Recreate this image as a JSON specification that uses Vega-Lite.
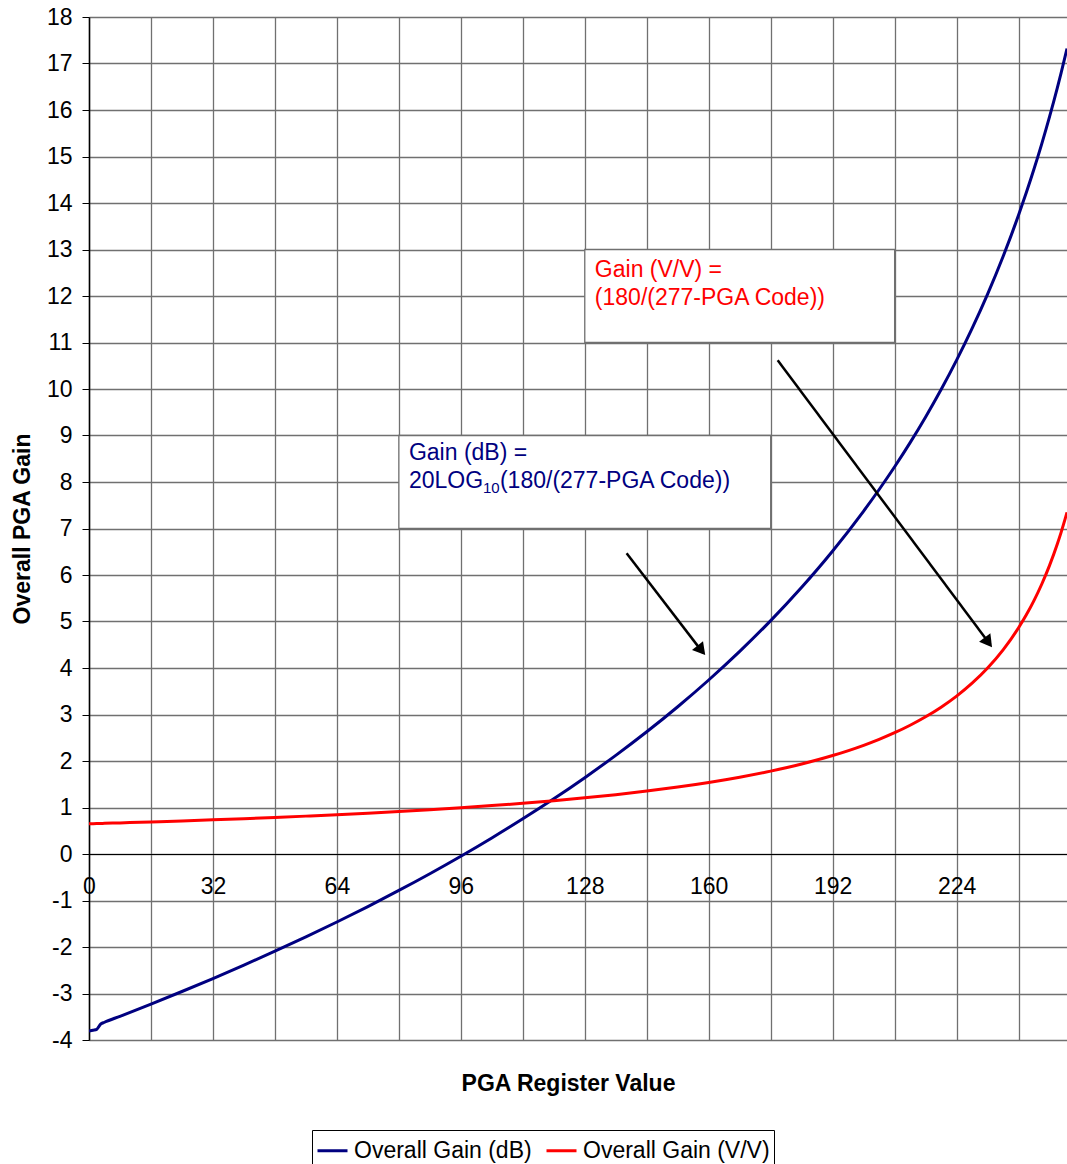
{
  "$schema": "https://vega.github.io/schema/vega-lite/v6.json",
  "width": 978,
  "height": 1023,
  "autosize": "none",
  "padding": {"left": 89, "top": 17, "right": 0, "bottom": 124},
  "background": "white",
  "config": {
    "view": {"stroke": null},
    "font": "Liberation Sans",
    "axis": {"labelFont": "Liberation Sans", "titleFont": "Liberation Sans", "labelColor": "black", "titleColor": "black"}
  },
  "encoding": {
    "x": {
      "field": "x", "type": "quantitative",
      "scale": {"domain": [0, 252.5], "nice": false, "zero": false},
      "axis": {
        "title": "PGA Register Value",
        "values": [0, 16, 32, 48, 64, 80, 96, 112, 128, 144, 160, 176, 192, 208, 224, 240],
        "labelExpr": "datum.value % 32 == 0 ? toString(datum.value) : ''",
        "offset": -186,
        "grid": true, "gridColor": "#707070", "gridWidth": 1.3, "gridOpacity": 1,
        "tickSize": 0, "domain": true, "domainColor": "black", "domainWidth": 1,
        "labelFontSize": 23, "labelPadding": 21, "labelFlush": false, "labelOverlap": false,
        "titleFontSize": 23, "titleFontWeight": "bold", "titleX": 479, "titleY": 229, "titleBaseline": "middle", "titleAlign": "center"
      }
    },
    "y": {
      "field": "y", "type": "quantitative",
      "scale": {"domain": [-4, 18], "nice": false, "zero": false},
      "axis": {
        "title": "Overall PGA Gain",
        "values": [-4, -3, -2, -1, 0, 1, 2, 3, 4, 5, 6, 7, 8, 9, 10, 11, 12, 13, 14, 15, 16, 17, 18],
        "labelExpr": "toString(datum.value)",
        "grid": true, "gridColor": "#707070", "gridWidth": 1.3, "gridOpacity": 1,
        "tickSize": 7, "tickColor": "black", "domain": true, "domainColor": "black", "domainWidth": 1.5,
        "labelFontSize": 23, "labelPadding": 10, "labelFlush": false, "labelOverlap": false,
        "titleFontSize": 23, "titleFontWeight": "bold", "titleX": -67, "titleBaseline": "middle"
      }
    }
  },
  "layer": [
    {
      "data": {"values": [
        {"x": 80, "x2": 176, "y": 7, "y2": 9},
        {"x": 128, "x2": 208, "y": 11, "y2": 13}
      ]},
      "mark": {"type": "rect", "fill": "white", "stroke": "#707070", "strokeWidth": 1.3},
      "encoding": {"x2": {"field": "x2"}, "y2": {"field": "y2"}}
    },
    {
      "data": {"values": [
        {"series": "Overall Gain (dB)", "x": 0, "y": -3.81},
        {"series": "Overall Gain (dB)", "x": 1, "y": -3.79},
        {"series": "Overall Gain (dB)", "x": 2, "y": -3.77},
        {"series": "Overall Gain (dB)", "x": 3, "y": -3.66},
        {"series": "Overall Gain (dB)", "x": 4, "y": -3.618},
        {"series": "Overall Gain (dB)", "x": 8, "y": -3.49},
        {"series": "Overall Gain (dB)", "x": 16, "y": -3.227},
        {"series": "Overall Gain (dB)", "x": 24, "y": -2.957},
        {"series": "Overall Gain (dB)", "x": 32, "y": -2.678},
        {"series": "Overall Gain (dB)", "x": 40, "y": -2.389},
        {"series": "Overall Gain (dB)", "x": 48, "y": -2.091},
        {"series": "Overall Gain (dB)", "x": 56, "y": -1.782},
        {"series": "Overall Gain (dB)", "x": 64, "y": -1.462},
        {"series": "Overall Gain (dB)", "x": 72, "y": -1.13},
        {"series": "Overall Gain (dB)", "x": 80, "y": -0.784},
        {"series": "Overall Gain (dB)", "x": 88, "y": -0.424},
        {"series": "Overall Gain (dB)", "x": 96, "y": -0.048},
        {"series": "Overall Gain (dB)", "x": 104, "y": 0.345},
        {"series": "Overall Gain (dB)", "x": 112, "y": 0.756},
        {"series": "Overall Gain (dB)", "x": 120, "y": 1.187},
        {"series": "Overall Gain (dB)", "x": 128, "y": 1.642},
        {"series": "Overall Gain (dB)", "x": 136, "y": 2.121},
        {"series": "Overall Gain (dB)", "x": 144, "y": 2.628},
        {"series": "Overall Gain (dB)", "x": 152, "y": 3.167},
        {"series": "Overall Gain (dB)", "x": 160, "y": 3.742},
        {"series": "Overall Gain (dB)", "x": 168, "y": 4.357},
        {"series": "Overall Gain (dB)", "x": 176, "y": 5.019},
        {"series": "Overall Gain (dB)", "x": 184, "y": 5.736},
        {"series": "Overall Gain (dB)", "x": 192, "y": 6.517},
        {"series": "Overall Gain (dB)", "x": 200, "y": 7.376},
        {"series": "Overall Gain (dB)", "x": 204, "y": 7.839},
        {"series": "Overall Gain (dB)", "x": 208, "y": 8.328},
        {"series": "Overall Gain (dB)", "x": 212, "y": 8.847},
        {"series": "Overall Gain (dB)", "x": 216, "y": 9.399},
        {"series": "Overall Gain (dB)", "x": 220, "y": 9.988},
        {"series": "Overall Gain (dB)", "x": 224, "y": 10.62},
        {"series": "Overall Gain (dB)", "x": 228, "y": 11.302},
        {"series": "Overall Gain (dB)", "x": 232, "y": 12.041},
        {"series": "Overall Gain (dB)", "x": 236, "y": 12.85},
        {"series": "Overall Gain (dB)", "x": 240, "y": 13.741},
        {"series": "Overall Gain (dB)", "x": 242, "y": 14.224},
        {"series": "Overall Gain (dB)", "x": 244, "y": 14.735},
        {"series": "Overall Gain (dB)", "x": 246, "y": 15.278},
        {"series": "Overall Gain (dB)", "x": 248, "y": 15.858},
        {"series": "Overall Gain (dB)", "x": 250, "y": 16.478},
        {"series": "Overall Gain (dB)", "x": 251, "y": 16.806},
        {"series": "Overall Gain (dB)", "x": 252, "y": 17.147},
        {"series": "Overall Gain (dB)", "x": 252.5, "y": 17.322},
        {"series": "Overall Gain (V/V)", "x": 0, "y": 0.6498},
        {"series": "Overall Gain (V/V)", "x": 1, "y": 0.6522},
        {"series": "Overall Gain (V/V)", "x": 2, "y": 0.6545},
        {"series": "Overall Gain (V/V)", "x": 3, "y": 0.6569},
        {"series": "Overall Gain (V/V)", "x": 4, "y": 0.6593},
        {"series": "Overall Gain (V/V)", "x": 8, "y": 0.6691},
        {"series": "Overall Gain (V/V)", "x": 16, "y": 0.6897},
        {"series": "Overall Gain (V/V)", "x": 24, "y": 0.7115},
        {"series": "Overall Gain (V/V)", "x": 32, "y": 0.7347},
        {"series": "Overall Gain (V/V)", "x": 40, "y": 0.7595},
        {"series": "Overall Gain (V/V)", "x": 48, "y": 0.786},
        {"series": "Overall Gain (V/V)", "x": 56, "y": 0.8145},
        {"series": "Overall Gain (V/V)", "x": 64, "y": 0.8451},
        {"series": "Overall Gain (V/V)", "x": 72, "y": 0.878},
        {"series": "Overall Gain (V/V)", "x": 80, "y": 0.9137},
        {"series": "Overall Gain (V/V)", "x": 88, "y": 0.9524},
        {"series": "Overall Gain (V/V)", "x": 96, "y": 0.9945},
        {"series": "Overall Gain (V/V)", "x": 104, "y": 1.0405},
        {"series": "Overall Gain (V/V)", "x": 112, "y": 1.0909},
        {"series": "Overall Gain (V/V)", "x": 120, "y": 1.1465},
        {"series": "Overall Gain (V/V)", "x": 128, "y": 1.2081},
        {"series": "Overall Gain (V/V)", "x": 136, "y": 1.2766},
        {"series": "Overall Gain (V/V)", "x": 144, "y": 1.3534},
        {"series": "Overall Gain (V/V)", "x": 152, "y": 1.44},
        {"series": "Overall Gain (V/V)", "x": 160, "y": 1.5385},
        {"series": "Overall Gain (V/V)", "x": 168, "y": 1.6514},
        {"series": "Overall Gain (V/V)", "x": 176, "y": 1.7822},
        {"series": "Overall Gain (V/V)", "x": 184, "y": 1.9355},
        {"series": "Overall Gain (V/V)", "x": 192, "y": 2.1176},
        {"series": "Overall Gain (V/V)", "x": 200, "y": 2.3377},
        {"series": "Overall Gain (V/V)", "x": 204, "y": 2.4658},
        {"series": "Overall Gain (V/V)", "x": 208, "y": 2.6087},
        {"series": "Overall Gain (V/V)", "x": 212, "y": 2.7692},
        {"series": "Overall Gain (V/V)", "x": 216, "y": 2.9508},
        {"series": "Overall Gain (V/V)", "x": 220, "y": 3.1579},
        {"series": "Overall Gain (V/V)", "x": 224, "y": 3.3962},
        {"series": "Overall Gain (V/V)", "x": 228, "y": 3.6735},
        {"series": "Overall Gain (V/V)", "x": 232, "y": 4.0},
        {"series": "Overall Gain (V/V)", "x": 236, "y": 4.3902},
        {"series": "Overall Gain (V/V)", "x": 240, "y": 4.8649},
        {"series": "Overall Gain (V/V)", "x": 242, "y": 5.1429},
        {"series": "Overall Gain (V/V)", "x": 244, "y": 5.4545},
        {"series": "Overall Gain (V/V)", "x": 246, "y": 5.8065},
        {"series": "Overall Gain (V/V)", "x": 248, "y": 6.2069},
        {"series": "Overall Gain (V/V)", "x": 250, "y": 6.6667},
        {"series": "Overall Gain (V/V)", "x": 251, "y": 6.9231},
        {"series": "Overall Gain (V/V)", "x": 252, "y": 7.2},
        {"series": "Overall Gain (V/V)", "x": 252.5, "y": 7.3469}
      ]},
      "mark": {"type": "line", "strokeWidth": 3, "interpolate": "monotone", "clip": true},
      "encoding": {
        "color": {
          "field": "series", "type": "nominal",
          "scale": {"domain": ["Overall Gain (dB)", "Overall Gain (V/V)"], "range": ["#000080", "#FF0000"]},
          "legend": {
            "orient": "none", "legendX": 223, "legendY": 1113, "direction": "horizontal",
            "title": null, "strokeColor": "black", "fillColor": "white", "padding": 4,
            "symbolType": "stroke", "symbolStrokeWidth": 3, "symbolSize": 900,
            "labelFont": "Liberation Sans", "labelFontSize": 23, "labelColor": "black", "labelLimit": 0,
            "columnPadding": 8, "labelOffset": 5
          }
        }
      }
    },
    {
      "data": {"values": [{"x": 130.6, "y": 12.41, "label": "Gain (V/V) =\n(180/(277-PGA Code))"}]},
      "mark": {"type": "text", "align": "left", "baseline": "alphabetic", "fontSize": 23, "font": "Liberation Sans", "color": "#FF0000", "lineBreak": "\n", "lineHeight": 28},
      "encoding": {"text": {"field": "label"}}
    },
    {
      "data": {"values": [
        {"x": 82.6, "y": 8.47, "label": "Gain (dB) ="},
        {"x": 82.6, "y": 7.87, "label": "20LOG"}
      ]},
      "mark": {"type": "text", "align": "left", "baseline": "alphabetic", "fontSize": 23, "font": "Liberation Sans", "color": "#000080"},
      "encoding": {"text": {"field": "label"}}
    },
    {
      "data": {"values": [{"x": 101.7, "y": 7.77, "label": "10"}]},
      "mark": {"type": "text", "align": "left", "baseline": "alphabetic", "fontSize": 15, "font": "Liberation Sans", "color": "#000080"},
      "encoding": {"text": {"field": "label"}}
    },
    {
      "data": {"values": [{"x": 106.1, "y": 7.87, "label": "(180/(277-PGA Code))"}]},
      "mark": {"type": "text", "align": "left", "baseline": "alphabetic", "fontSize": 23, "font": "Liberation Sans", "color": "#000080"},
      "encoding": {"text": {"field": "label"}}
    },
    {
      "data": {"values": [
        {"x": 138.8, "y": 6.47, "x2": 158.6, "y2": 4.32},
        {"x": 177.8, "y": 10.62, "x2": 232.7, "y2": 4.5}
      ]},
      "mark": {"type": "rule", "color": "black", "strokeWidth": 2.5},
      "encoding": {"x2": {"field": "x2"}, "y2": {"field": "y2"}}
    },
    {
      "data": {"values": [{"x": 158.1, "y": 4.38}]},
      "mark": {"type": "point", "shape": "triangle-up", "filled": true, "color": "black", "opacity": 1, "size": 200, "angle": 141.2},
      "encoding": {}
    },
    {
      "data": {"values": [{"x": 232.2, "y": 4.55}]},
      "mark": {"type": "point", "shape": "triangle-up", "filled": true, "color": "black", "opacity": 1, "size": 200, "angle": 143.3},
      "encoding": {}
    }
  ]
}
